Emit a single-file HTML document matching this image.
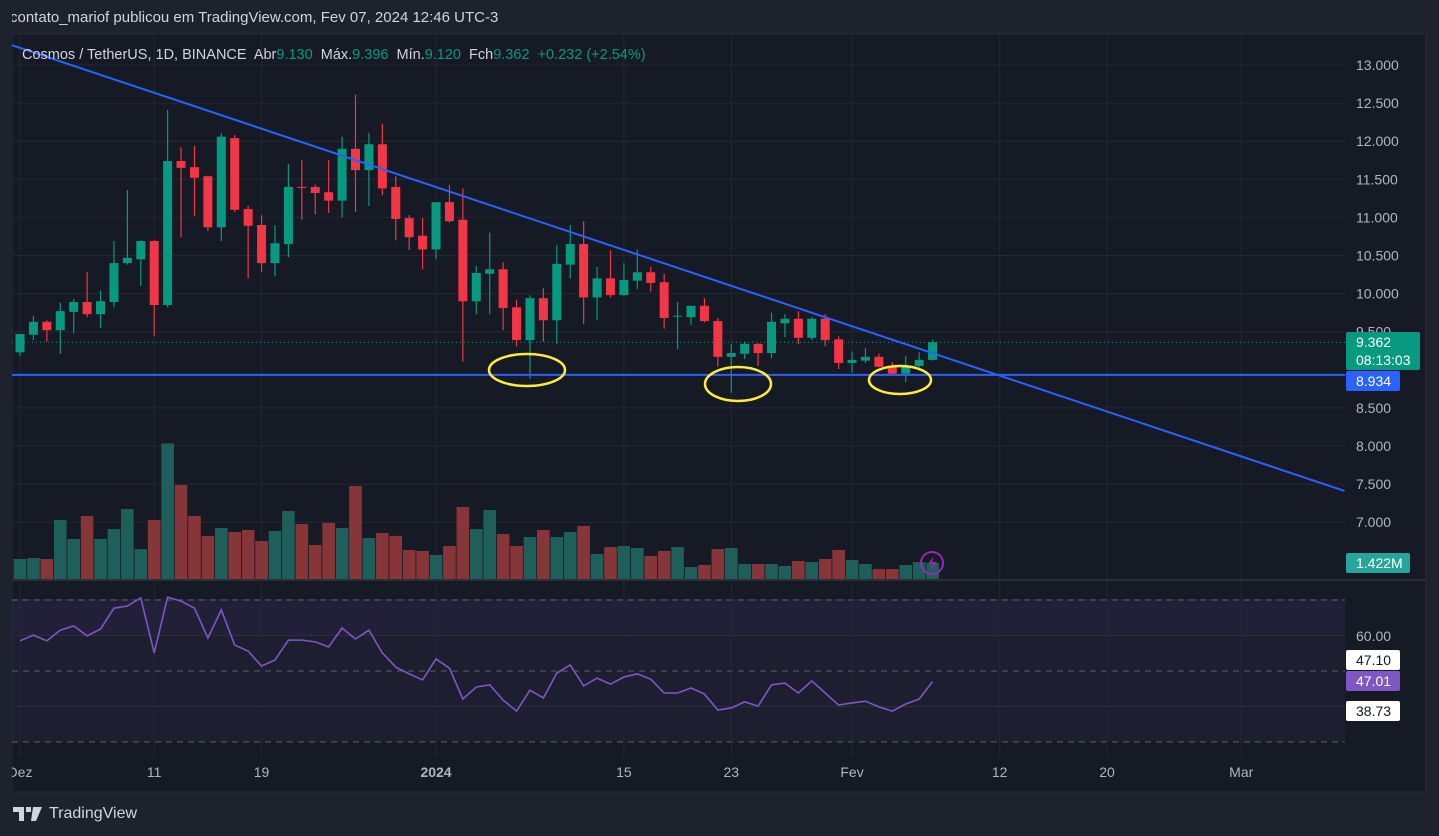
<!DOCTYPE html>
<html><head><meta charset="utf-8">
<style>
html,body{margin:0;padding:0;background:#1e222d;width:1439px;height:836px;overflow:hidden;font-family:"Liberation Sans",sans-serif;}
#hdr{position:absolute;left:10px;top:9px;color:#d1d4dc;font-size:15px;}
#logo{position:absolute;left:13px;top:805px;color:#d1d4dc;font-size:16px;display:flex;align-items:center;gap:6px;}
svg{position:absolute;left:0;top:0;}
</style></head><body>
<div id="hdr">contato_mariof publicou em TradingView.com, Fev 07, 2024 12:46 UTC-3</div>
<svg id="chart" width="1439" height="836"></svg>
<div id="logo"><svg width="30" height="14" style="position:static"><path d="M0 0h11v14h-5v-9h-6z M13 0h5v5h-5z M20 0h9l-6 14h-5z" fill="#d1d4dc"/></svg><span>TradingView</span></div>
<script>
const opens=[9.23,9.46,9.63,9.52,9.76,9.89,9.73,9.89,10.40,10.45,10.69,9.85,11.74,11.66,11.54,10.87,12.04,11.11,10.90,10.40,10.65,11.40,11.40,11.33,11.22,11.90,11.62,11.96,11.40,10.99,10.76,10.58,11.20,10.97,9.90,10.26,10.32,9.82,9.39,9.94,9.65,10.38,10.65,9.95,10.20,9.98,10.17,10.28,10.15,9.70,9.69,9.84,9.64,9.17,9.21,9.34,9.22,9.61,9.67,9.42,9.67,9.40,9.09,9.12,9.17,9.05,8.95,9.05,9.130];
const highs=[9.47,9.71,9.65,9.88,9.93,10.28,10.04,10.69,11.36,10.70,10.70,12.41,11.92,11.94,11.55,12.11,12.08,11.15,11.03,10.90,11.70,11.75,11.43,11.75,12.06,12.61,12.11,12.23,11.54,11.03,10.99,11.20,11.43,11.38,10.36,10.80,10.41,9.92,9.98,10.07,10.64,10.90,10.95,10.35,10.57,10.40,10.58,10.35,10.26,9.89,9.84,9.94,9.68,9.34,9.37,9.35,9.75,9.73,9.77,9.69,9.73,9.44,9.24,9.29,9.21,9.10,9.18,9.23,9.396];
const lows=[9.18,9.39,9.37,9.21,9.48,9.69,9.55,9.82,10.38,10.10,9.44,9.82,10.74,11.02,10.82,10.69,11.07,10.20,10.28,10.23,10.48,10.97,11.04,11.06,11.00,11.07,11.15,11.29,10.70,10.57,10.32,10.45,10.93,9.11,9.73,9.73,9.52,9.31,8.88,9.37,9.34,10.20,9.60,9.65,9.95,9.97,10.06,10.03,9.54,9.27,9.59,9.62,9.04,8.70,9.14,9.05,9.15,9.43,9.34,9.39,9.31,9.01,8.96,9.09,9.03,8.93,8.84,9.03,9.120];
const closes=[9.47,9.63,9.52,9.77,9.89,9.73,9.90,10.40,10.47,10.69,9.85,11.74,11.65,11.52,10.87,12.06,11.10,10.89,10.40,10.66,11.40,11.39,11.32,11.22,11.90,11.62,11.96,11.38,10.98,10.74,10.58,11.20,10.95,9.90,10.27,10.32,9.81,9.39,9.94,9.65,10.39,10.65,9.95,10.20,9.98,10.18,10.28,10.14,9.68,9.71,9.84,9.64,9.17,9.22,9.34,9.22,9.63,9.67,9.42,9.67,9.39,9.09,9.13,9.17,9.04,8.95,9.05,9.13,9.362];
const volumes=[1.77,1.86,1.77,5.22,3.54,5.58,3.54,4.42,6.19,2.65,5.22,12.0,8.32,5.58,3.81,4.51,4.16,4.34,3.36,4.25,6.02,4.87,3.01,4.96,4.51,8.23,3.63,4.07,3.81,2.57,2.48,2.12,2.92,6.37,4.42,6.11,3.98,2.92,3.72,4.34,3.72,4.16,4.69,2.21,2.83,2.92,2.74,2.04,2.48,2.83,1.06,1.24,2.65,2.74,1.33,1.33,1.33,1.15,1.59,1.50,1.77,2.57,1.68,1.33,0.88,0.88,1.24,1.50,1.422];
const rsi=[58.5,60.1,58.5,61.5,62.7,59.9,61.8,67.7,68.3,70.6,55.1,70.8,69.7,67.7,59.3,67.2,57.3,55.6,51.4,53.1,58.7,58.7,58.2,56.8,62.1,59.0,61.5,55.1,51.1,49.2,47.5,53.4,50.8,42.1,45.5,46.1,41.8,38.7,44.6,42.4,49.4,51.7,45.8,48.0,46.3,48.3,49.2,47.7,43.8,43.8,45.2,43.5,39.0,39.6,41.3,40.1,46.1,46.6,43.8,47.2,43.8,40.4,41.0,41.5,39.9,38.7,40.7,42.1,47.0];
const priceTicks=[13,12.5,12,11.5,11,10.5,10,9.5,8.5,8,7.5,7];
const dateTicks=[{d:0,t:"Dez",b:false},{d:10,t:"11",b:false},{d:18,t:"19",b:false},{d:31,t:"2024",b:true},{d:45,t:"15",b:false},{d:53,t:"23",b:false},{d:62,t:"Fev",b:false},{d:73,t:"12",b:false},{d:81,t:"20",b:false},{d:91,t:"Mar",b:false}];
const trendDay=[-0.6,98.7];
const trendPrice=[13.26,7.41];
const supportPrice=8.934;

const NS="http://www.w3.org/2000/svg";
const svg=document.getElementById('chart');
const X=d=>20+d*13.42;
const Y=p=>65+(13-p)*76.2;
const VY=v=>579-v*11.3;
const RY=r=>600+(70-r)*3.55;
function mk(tag,attrs,parent){const e=document.createElementNS(NS,tag);for(const k in attrs)e.setAttribute(k,attrs[k]);(parent||svg).appendChild(e);return e;}
function txt(x,y,s,attrs){const e=mk('text',Object.assign({x:x,y:y,'font-family':'Liberation Sans, sans-serif'},attrs));e.textContent=s;return e;}

let e;
e=mk('rect',{x:12,y:34,width:1414,height:758,fill:'#161a25',stroke:'#2a2e39'});


e=mk('rect',{x:12,y:599,width:1333,height:143,fill:'#7e57c2','fill-opacity':0.08});


e=mk('rect',{x:12,y:599,width:1333,height:37,fill:'#7e57c2','fill-opacity':0.05});


priceTicks.forEach(p=>{
 e=mk('line',{x1:12,x2:1345,y1:Y(p),y2:Y(p),stroke:'#242733'});
 
 
 e=txt(1356,Y(p)+5,p.toFixed(3),{fill:'#b2b5be','font-size':14});
 
 
});
[40,60].forEach(r=>{
 e=mk('line',{x1:12,x2:1345,y1:RY(r),y2:RY(r),stroke:'#2c2e3c'});
 
 
});
[70,50,30].forEach(r=>{
 e=mk('line',{x1:12,x2:1345,y1:RY(r),y2:RY(r),stroke:'#787b86','stroke-dasharray':'6 5','stroke-opacity':0.7});
 
 
});
dateTicks.forEach(t=>{
 e=mk('line',{x1:X(t.d),x2:X(t.d),y1:34,y2:757,stroke:'#242733'});
 
 
 e=txt(X(t.d),777,t.t,{fill:'#b2b5be','font-size':14,'text-anchor':'middle','font-weight':t.b?'bold':'normal'});
 
 
});
e=mk('line',{x1:12,x2:1426,y1:580,y2:580,stroke:'#2a2e39','stroke-width':2});


e=mk('rect',{x:0,y:0,width:12,height:836,fill:'#1e222d'});


volumes.forEach((v,i)=>{
 const up=closes[i]>=opens[i];
 e=mk('rect',{x:X(i)-6.3,y:VY(v),width:12.6,height:579-VY(v),fill:up?'#1e5f5b':'#863638'});
 
 
});
e=mk('line',{x1:12,x2:1345,y1:Y(closes[68]),y2:Y(closes[68]),stroke:'#089981','stroke-dasharray':'1 3'});


opens.forEach((o,i)=>{
 const c=closes[i],up=c>=o,col=up?'#089981':'#f23645',x=X(i);
 const g=mk('g',{});
 
 
 mk('line',{x1:x,x2:x,y1:Y(highs[i]),y2:Y(lows[i]),stroke:col,'stroke-width':1.2},g);
 const t=Y(Math.max(o,c)),b=Y(Math.min(o,c));
 mk('rect',{x:x-4.5,y:t,width:9,height:Math.max(1,b-t),fill:col},g);
});
e=mk('line',{x1:X(trendDay[0]),y1:Y(trendPrice[0]),x2:X(trendDay[1]),y2:Y(trendPrice[1]),stroke:'#2962ff','stroke-width':2});


e=mk('line',{x1:12,x2:1345,y1:Y(supportPrice),y2:Y(supportPrice),stroke:'#2962ff','stroke-width':2});


[[527,370,38,16],[738,384,33,17],[900,380,31,14]].forEach(c=>{
 e=mk('ellipse',{cx:c[0],cy:c[1],rx:c[2],ry:c[3],fill:'none',stroke:'#ffeb3b','stroke-width':2.5});
 
 
});
e=mk('polyline',{points:rsi.map((r,i)=>X(i)+','+RY(r)).join(' '),fill:'none',stroke:'#7e57c2','stroke-width':1.6});


e=mk('circle',{cx:932,cy:563,r:11,fill:'none',stroke:'#9c27b0','stroke-width':2});


e=mk('path',{d:'M934 556 L928 564 L933 564 L930 571 L937 562 L932 562 Z',fill:'#9c27b0'});


function badge(y,h,w,bg,fg,lines,name){
 e=mk('rect',{x:1346,y:y,width:w,height:h,fill:bg,rx:2});
 
 
 lines.forEach((s,k)=>{const tt=txt(1356,y+15+k*18,s,{fill:fg,'font-size':14});});
}
badge(332,38,74,'#089981','#ffffff',['9.362','08:13:03'],'last-price-badge');
badge(371,20,54,'#2962ff','#ffffff',['8.934'],'support-price-badge');
badge(553,20,64,'#26a69a','#ffffff',['1.422M'],'volume-badge');
e=txt(1356,641,'60.00',{fill:'#b2b5be','font-size':14});


badge(650,20,54,'#ffffff','#131722',['47.10'],'rsi-ma-badge');
badge(671,20,54,'#7e57c2','#ffffff',['47.01'],'rsi-value-badge');
badge(701,20,54,'#ffffff','#131722',['38.73'],'rsi-lower-badge');
const leg=[['Cosmos / TetherUS, 1D, BINANCE  ','#d1d4dc'],['Abr','#d1d4dc'],['9.130  ','#089981'],['Máx.','#d1d4dc'],['9.396  ','#089981'],['Mín.','#d1d4dc'],['9.120  ','#089981'],['Fch','#d1d4dc'],['9.362  ','#089981'],['+0.232 (+2.54%)','#089981']];
e=mk('text',{x:22,y:59,'font-size':14.5,'font-family':'Liberation Sans, sans-serif',style:'white-space:pre'});


leg.forEach(l=>{const s=mk('tspan',{fill:l[1]},e);s.textContent=l[0];});
</script>
</body></html>
